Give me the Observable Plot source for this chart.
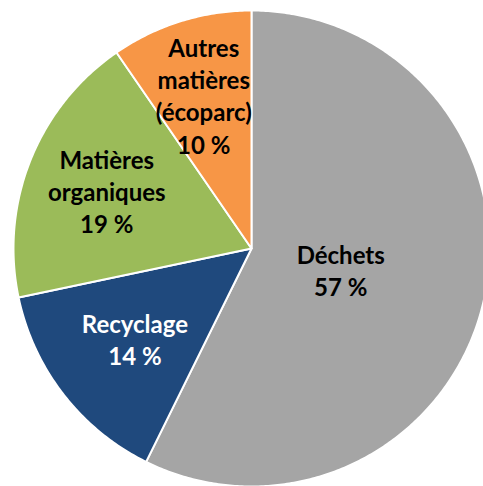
<!DOCTYPE html>
<html>
<head>
<meta charset="utf-8">
<script src="https://cdn.jsdelivr.net/npm/d3@7"></script>
<script src="https://cdn.jsdelivr.net/npm/@observablehq/plot@0.6"></script>
<style>
  html, body { margin: 0; padding: 0; background: #fff; }
  #chart svg { display: block; }
</style>
</head>
<body>
<div id="chart"></div>
<script>
// ---- data ----
const categories = ["Déchets", "Recyclage", "Matières organiques", "Autres matières (écoparc)"];
const labelLines = ["Déchets", "Recyclage", "Matières\norganiques", "Autres\nmatières\n(écoparc)"];
const values = [57.3, 14.4, 18.7, 9.6];   // shares (labels show rounded %)
const colors = ["#a5a5a5", "#1f497d", "#9bbb59", "#f79646"];
const textColors = ["#000000", "#ffffff", "#000000", "#000000"];

// ---- layout ----
const W = 483, H = 486;
const cx = 251, cy = 248, R = 238;           // pixel center / radius
const labelRadius = [0.385, 0.62, 0.655, 0.675]; // fraction of radius for labels

const pie = d3.pie().sort(null).value(d => d)(values);

// polygon points for each slice (unit circle; angle 0 at top, clockwise)
const pts = [];
pie.forEach((a, i) => {
  const n = Math.max(8, Math.ceil((a.endAngle - a.startAngle) / 0.01));
  pts.push({cat: categories[i], x: 0, y: 0});
  for (let k = 0; k <= n; k++) {
    const t = a.startAngle + (a.endAngle - a.startAngle) * k / n;
    pts.push({cat: categories[i], x: Math.sin(t), y: Math.cos(t)});
  }
  pts.push({cat: categories[i], x: 0, y: 0});
});

const labels = pie.map((a, i) => {
  const m = (a.startAngle + a.endAngle) / 2;
  return {
    cat: categories[i],
    text: labelLines[i] + "\n" + Math.round(values[i]) + " %",
    x: labelRadius[i] * Math.sin(m),
    y: labelRadius[i] * Math.cos(m),
    color: textColors[i]
  };
});

const chart = Plot.plot({
  width: W,
  height: H,
  margin: 0,
  axis: null,
  x: {domain: [-cx / R, (W - cx) / R], range: [0, W]},
  y: {domain: [-(H - cy) / R, cy / R], range: [H, 0]},
  color: {domain: categories, range: colors},
  style: {background: "#fff"},
  marks: [
    Plot.line(pts, {x: "x", y: "y", z: "cat", fill: "cat", stroke: "#ffffff", strokeWidth: 2, strokeLinejoin: "round"}),
    Plot.text(labels, {
      x: "x", y: "y", text: "text", fill: d => d.color,
      fontFamily: "Lato, 'Open Sans', sans-serif", fontWeight: "bold", fontSize: 24,
      lineHeight: 1.34, textAnchor: "middle", lineAnchor: "middle"
    })
  ]
});

document.getElementById("chart").appendChild(chart);
</script>
</body>
</html>
